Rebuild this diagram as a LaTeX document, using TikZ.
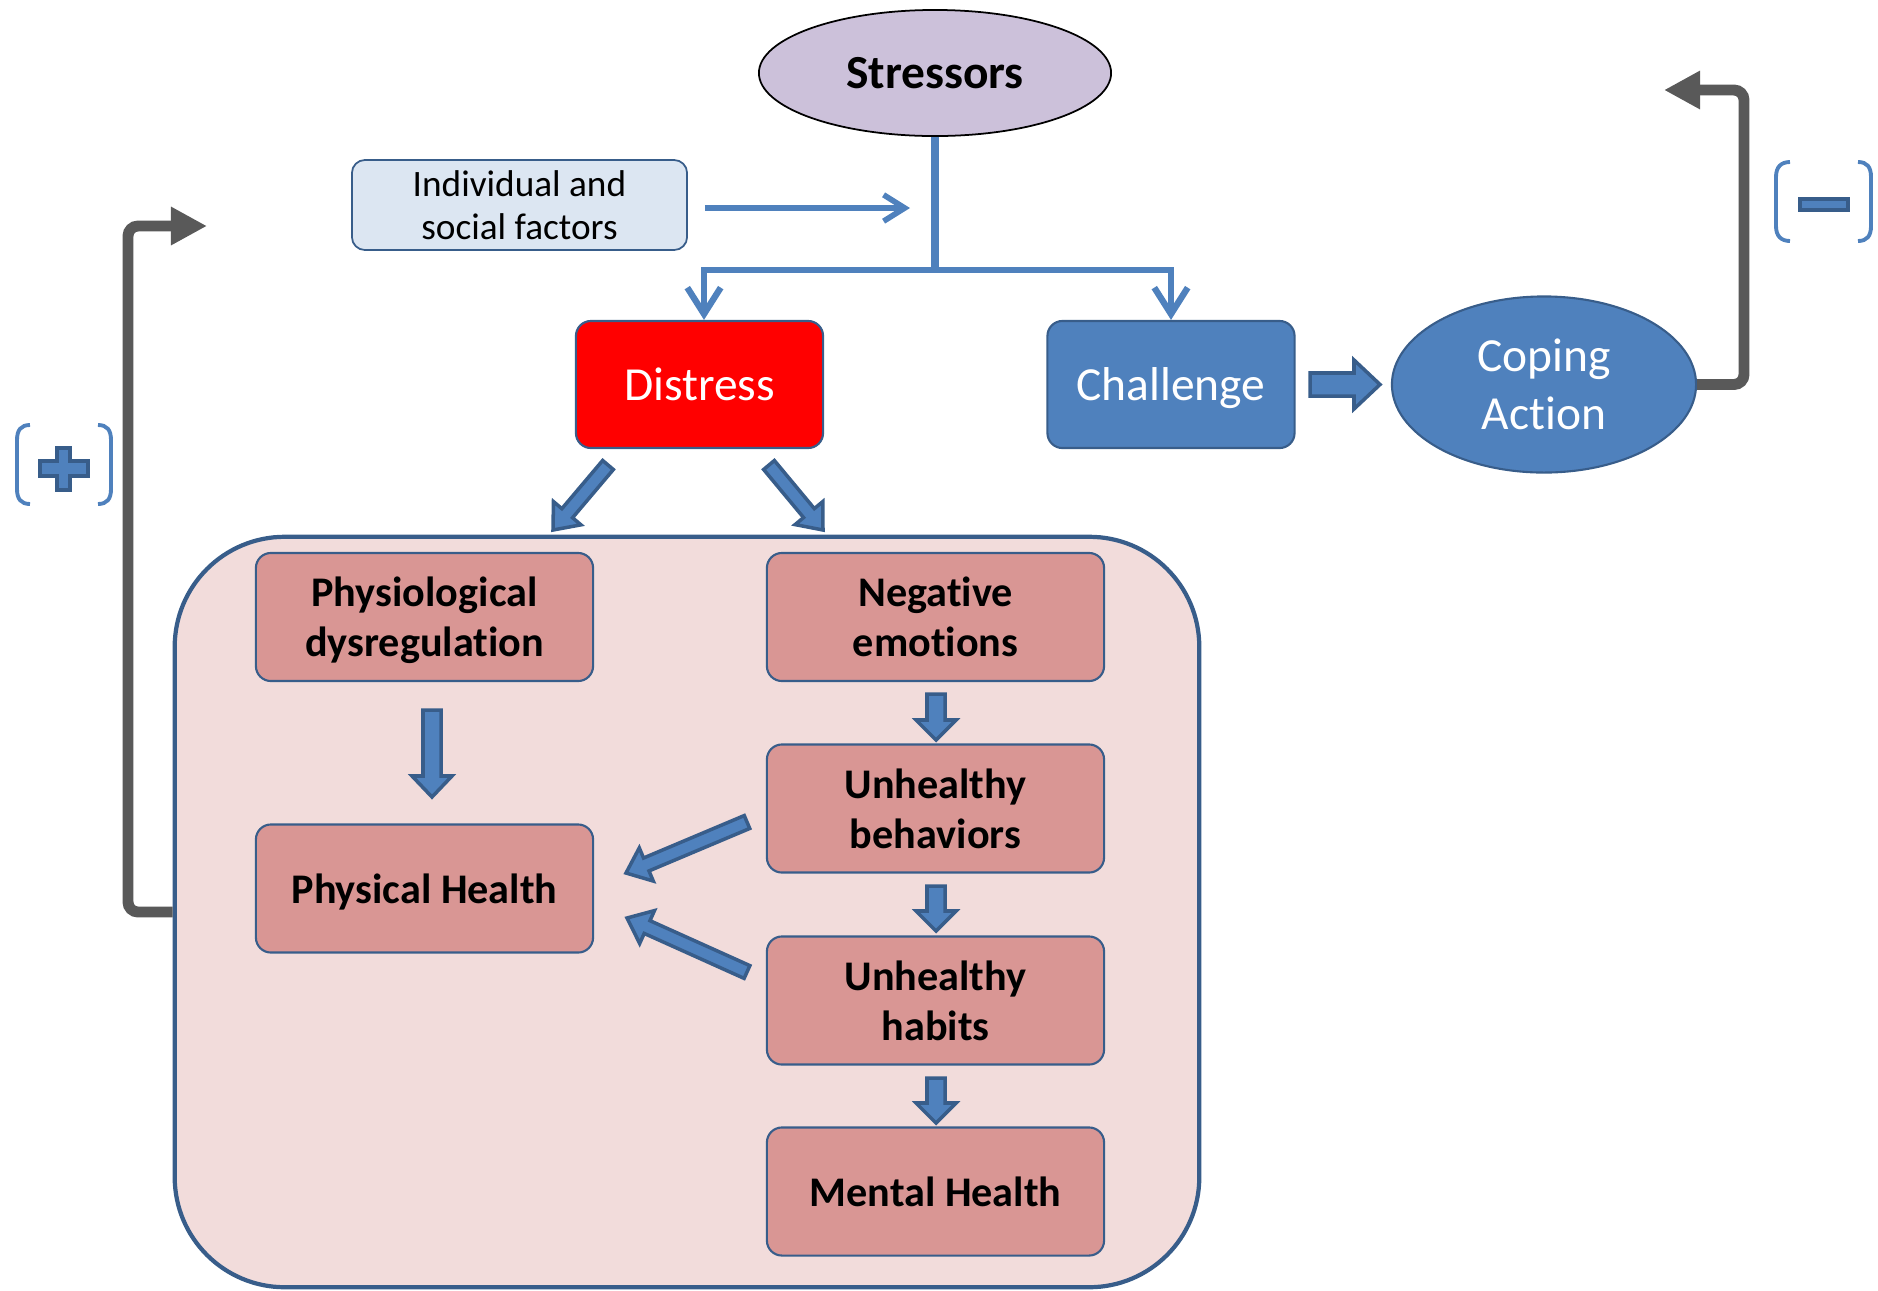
\documentclass[tikz,border=0pt]{standalone}
\usepackage{fontspec}
\setmainfont{Carlito}[Ligatures=NoCommon]
\usetikzlibrary{arrows.meta,shapes.geometric,calc}
\definecolor{bluefill}{HTML}{4F81BD}
\definecolor{blueline}{HTML}{385D8A}
\definecolor{lav}{HTML}{CCC1DA}
\definecolor{pinkbox}{HTML}{D99694}
\definecolor{pinkbg}{HTML}{F2DCDB}
\definecolor{indfill}{HTML}{DCE6F2}
\definecolor{gline}{HTML}{595959}
\newcommand\blockarrow[5]{%
  \path ($(#2)!#5!(#1)$) coordinate (bahead);
  \filldraw[barrowst] ($(#1)!#3!90:(#2)$) -- ($(bahead)!#3!90:(#2)$) -- ($(bahead)!#4!90:(#2)$) -- (#2) -- ($(bahead)!#4!-90:(#2)$) -- ($(bahead)!#3!-90:(#2)$) -- ($(#1)!#3!-90:(#2)$) -- cycle;}
\begin{document}
\begin{tikzpicture}[x=0.01cm,y=-0.01cm,
  box/.style={draw=blueline, line width=0.6pt, fill=pinkbox, rounded corners=0.15cm,
    minimum width=3.37cm, minimum height=1.28cm, align=center, inner sep=0pt, text depth=0pt,
    font=\fontsize{12}{14.3}\selectfont\bfseries},
  topbox/.style={draw=blueline, line width=0.6pt, rounded corners=0.15cm,
    minimum width=2.47cm, minimum height=1.27cm, align=center, inner sep=0pt, text depth=0pt,
    text=white, font=\fontsize{13.5}{16.4}\selectfont},
  bigbox/.style={draw=blueline, line width=1.2pt, fill=pinkbg, rounded corners=1.1cm,
    minimum width=10.24cm, minimum height=7.5cm, inner sep=0pt},
  barrowst/.style={fill=bluefill, draw=blueline, line width=1pt, line join=miter},
  stem/.style={draw=bluefill, line width=2.1pt},
  downarr/.style={draw=bluefill, line width=1.8pt, -{Straight Barb[length=7.5pt,width=9.5pt]}},
  indarr/.style={draw=bluefill, line width=1.6pt, -{Straight Barb[length=6pt,width=7.5pt]}},
  grayarr/.style={draw=gline, line width=3.1pt, rounded corners=0.1cm, -{Triangle[length=0.36cm,width=0.36cm]}},
  signst/.style={fill=bluefill, draw=blueline, line width=1.2pt},
  bracketst/.style={draw=bluefill, line width=1.1pt}
]
\useasboundingbox (0,0) rectangle (1878,1290);

% top part
\node[ellipse, draw=black, line width=0.5pt, fill=lav, minimum width=3.52cm, minimum height=1.26cm,
  inner sep=0pt, font=\fontsize{13.5}{16}\selectfont\bfseries] (stress) at (935,73) {Stressors};
\node[draw=blueline, line width=0.5pt, fill=indfill, rounded corners=0.13cm, minimum width=3.35cm,
  minimum height=0.9cm, inner sep=0pt, align=center, font=\fontsize{10.6}{12.3}\selectfont]
  (indiv) at (519.5,205) {Individual and\\social factors};
\node[topbox, fill=red] (distress) at (699.5,384.5) {Distress};
\node[topbox, fill=bluefill] (challenge) at (1171,384.5) {Challenge};
\node[ellipse, draw=blueline, line width=0.6pt, fill=bluefill, minimum width=3.04cm, minimum height=1.76cm,
  inner sep=0pt, align=center, text=white, font=\fontsize{13.5}{16.4}\selectfont] (coping) at (1544,384.5) {Coping\\Action};

\coordinate (split) at (935,270);
\coordinate (indtip) at (910,208);
\draw[stem] (stress.south) -- (split);
\draw[downarr] (split) -| ([xshift=0.045cm]distress.north);
\draw[downarr] (split) -| (challenge.north);
\draw[indarr] ([xshift=0.17cm]indiv.east |- indtip) -- (indtip);

% big box
\node[bigbox] (big) at (687,912) {};
\node[box] (physio) at (424.5,617) {Physiological\\dysregulation};
\node[box] (physical) at (424.5,888.5) {Physical Health};
\node[box] (neg) at (935.5,617) {Negative\\emotions};
\node[box] (behav) at (935.5,808.5) {Unhealthy\\behaviors};
\node[box] (habits) at (935.5,1000.5) {Unhealthy\\habits};
\node[box] (mental) at (935.5,1191.5) {Mental Health};

% block arrows
\coordinate (a1s) at (432,710);  \coordinate (a1e) at (432,797);
\coordinate (a2s) at (936,694);  \coordinate (a2e) at (936,740);
\coordinate (a3s) at (936,886);  \coordinate (a3e) at (936,931);
\coordinate (a4s) at (936,1078); \coordinate (a4e) at (936,1123);
\coordinate (a5s) at (608,465);  \coordinate (a5e) at (553,530);
\coordinate (a6s) at (769,465);  \coordinate (a6e) at (823,530);
\coordinate (a7s) at (747,822);  \coordinate (a7e) at (626,873);
\coordinate (a8s) at (747,972);  \coordinate (a8e) at (627,918);
\coordinate (a9s) at (1310,384.5); \coordinate (a9e) at (1380,384.5);
\blockarrow{a1s}{a1e}{0.09cm}{0.2cm}{0.21cm}
\blockarrow{a2s}{a2e}{0.09cm}{0.2cm}{0.2cm}
\blockarrow{a3s}{a3e}{0.09cm}{0.2cm}{0.2cm}
\blockarrow{a4s}{a4e}{0.09cm}{0.2cm}{0.2cm}
\blockarrow{a5s}{a5e}{0.07cm}{0.18cm}{0.22cm}
\blockarrow{a6s}{a6e}{0.07cm}{0.18cm}{0.22cm}
\blockarrow{a7s}{a7e}{0.07cm}{0.18cm}{0.22cm}
\blockarrow{a8s}{a8e}{0.07cm}{0.18cm}{0.22cm}
\blockarrow{a9s}{a9e}{0.115cm}{0.245cm}{0.26cm}

% gray feedback arrows
\coordinate (rtop) at (1744,90);
\coordinate (rtip) at (1664,90);
\draw[grayarr] (coping.east) -| (rtop) -- (rtip);
\coordinate (ltop) at (128,226);
\coordinate (ltip) at (207,226);
\draw[grayarr] (big.west) -| (ltop) -- (ltip);

% plus sign with brackets
\draw[bracketst] (30,425) .. controls (21,425) and (17,430) .. (17,440) -- (17,489) .. controls (17,499) and (21,504) .. (30,504);
\draw[bracketst] (98,425) .. controls (107,425) and (111,430) .. (111,440) -- (111,489) .. controls (111,499) and (107,504) .. (98,504);
\filldraw[signst] (57,448) -- (70,448) -- (70,461) -- (88,461) -- (88,476) -- (70,476) -- (70,490) -- (57,490) -- (57,476) -- (40,476) -- (40,461) -- (57,461) -- cycle;

% minus sign with brackets
\draw[bracketst] (1790,162) .. controls (1781,162) and (1776,167) .. (1776,177) -- (1776,226) .. controls (1776,236) and (1781,241) .. (1790,241);
\draw[bracketst] (1858,162) .. controls (1867,162) and (1871,167) .. (1871,177) -- (1871,226) .. controls (1871,236) and (1867,241) .. (1858,241);
\filldraw[signst] (1800,199) rectangle (1848,210);
\end{tikzpicture}
\end{document}
